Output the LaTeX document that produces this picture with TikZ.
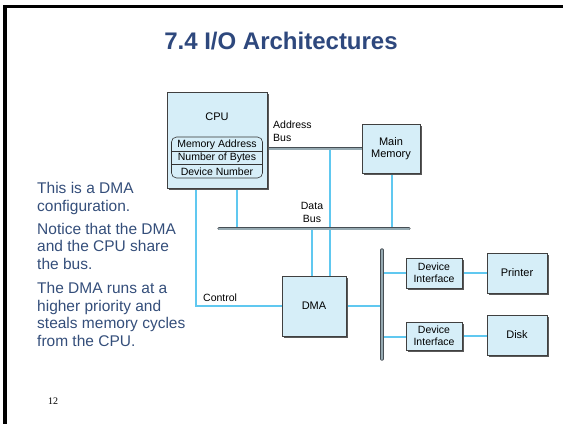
\documentclass[tikz,border=0pt]{standalone}
\usepackage{fontspec}
\setmainfont{Liberation Sans}
\newfontfamily\serifpn{Liberation Serif}
\usetikzlibrary{shadows,calc}
\definecolor{titleblue}{RGB}{46,72,125}
\definecolor{textblue}{RGB}{52,78,122}
\definecolor{boxfill}{RGB}{214,238,248}
\definecolor{linkblue}{RGB}{96,200,240}
\definecolor{busedge}{RGB}{70,78,84}
\definecolor{busfill}{RGB}{150,170,178}
\begin{document}
\begin{tikzpicture}[x=1pt,y=-1pt,
  unit/.style={draw=black!75,line width=0.6pt,fill=boxfill,inner sep=0pt,
    font=\fontsize{11}{12.5}\selectfont,align=center,
    drop shadow={shadow xshift=1.6pt,shadow yshift=-1.6pt,fill=black!65,opacity=1}},
  link/.style={draw=linkblue,line width=1.8pt},
  bus/.style={draw=busedge,line width=0.7pt,double=busfill,double distance=2pt,line cap=round},
  lbl/.style={font=\fontsize{10.5}{13}\selectfont,inner sep=0pt},
  para/.style={font=\fontsize{15.5}{17.5}\selectfont,text=textblue,align=left,anchor=base west,inner sep=0pt}]
\useasboundingbox (0,0) rectangle (563,424);
% slide border
\fill[black] (3,5) rectangle (563,8);
\fill[black] (3,5) rectangle (6.5,424);
% title
\node[font=\fontsize{24}{28}\bfseries,text=titleblue,anchor=base] (title) at (281,49) {7.4 I/O Architectures};
% explanatory text (anchored at the baseline of the last line)
\node[para] (p1) at (37,211) {This is a DMA\\configuration.};
\node[para] (p2) at (37,269) {Notice that the DMA\\and the CPU share\\the bus.};
\node[para] (p3) at (37,346) {The DMA runs at a\\higher priority and\\steals memory cycles\\from the CPU.};
\node[font=\serifpn\fontsize{10}{12}\selectfont,anchor=base west,inner sep=0pt] (pn) at (48,404) {12};
% bus tap coordinates
\coordinate (abL) at (267,148.5);
\coordinate (abR) at (362,148.5);
\coordinate (dbL) at (219,228.5);
\coordinate (dbR) at (409,228.5);
\coordinate (vbT) at (382,250);
\coordinate (vbB) at (382,359);
\coordinate (tapA) at (330,148.5);
\coordinate (tapB) at (312,228.5);
\coordinate (tapC) at (392,228.5);
\coordinate (tapD) at (237,228.5);
% blue connectors
\draw[link] (196,188) |- (282,306);
\draw[link] (tapD |- 0,188) -- (tapD);
\draw[link] (tapA) -- (330,276);
\draw[link] (tapB) -- (312,276);
\draw[link] (tapC |- 0,173) -- (tapC);
\draw[link] (346,306) -- (382,306);
\draw[link] (382,273) -- (406,273);
\draw[link] (382,337) -- (406,337);
\draw[link] (462,273) -- (487,273);
\draw[link] (462,336) -- (487,336);
% buses
\draw[bus] (abL) -- (abR);
\draw[bus] (dbL) -- (dbR);
\draw[bus] (vbT) -- (vbB);
% units
\node[unit,minimum width=100pt,minimum height=96pt] (cpu) at (217,140) {};
\node[lbl,font=\fontsize{11}{13}\selectfont] (cputxt) at (217,117) {CPU};
\node[draw=black!80,line width=0.6pt,rounded corners=5pt,minimum width=91pt,minimum height=41pt,inner sep=0pt] (regs) at (217,157.5) {};
\draw[black!80,line width=0.5pt] (regs.west |- 0,151) -- (regs.east |- 0,151);
\draw[black!80,line width=0.5pt] (regs.west |- 0,164.5) -- (regs.east |- 0,164.5);
\node[lbl] (r1) at (217,144.5) {Memory Address};
\node[lbl] (r2) at (217,158) {Number of Bytes};
\node[lbl] (r3) at (217,171.5) {Device Number};
\node[unit,minimum width=58pt,minimum height=49pt] (mem) at (391,148.5) {Main\\Memory};
\node[unit,minimum width=64pt,minimum height=60pt] (dma) at (314,306) {DMA};
\node[unit,minimum width=56pt,minimum height=30pt,font=\fontsize{10.5}{12}\selectfont] (di1) at (434,273) {Device\\Interface};
\node[unit,minimum width=56pt,minimum height=28pt,font=\fontsize{10.5}{12}\selectfont] (di2) at (434,336) {Device\\Interface};
\node[unit,minimum width=60pt,minimum height=40pt] (prn) at (517,273) {Printer};
\node[unit,minimum width=60pt,minimum height=40pt] (dsk) at (517,335) {Disk};
% bus labels (anchored at the baseline of the last line)
\node[lbl,anchor=base west,align=left] (ablbl) at (273,141) {Address\\Bus};
\node[lbl,anchor=base,align=center] (dblbl) at (312,222) {Data\\Bus};
\node[lbl,anchor=base west] (ctllbl) at (203,301) {Control};
\end{tikzpicture}
\end{document}
